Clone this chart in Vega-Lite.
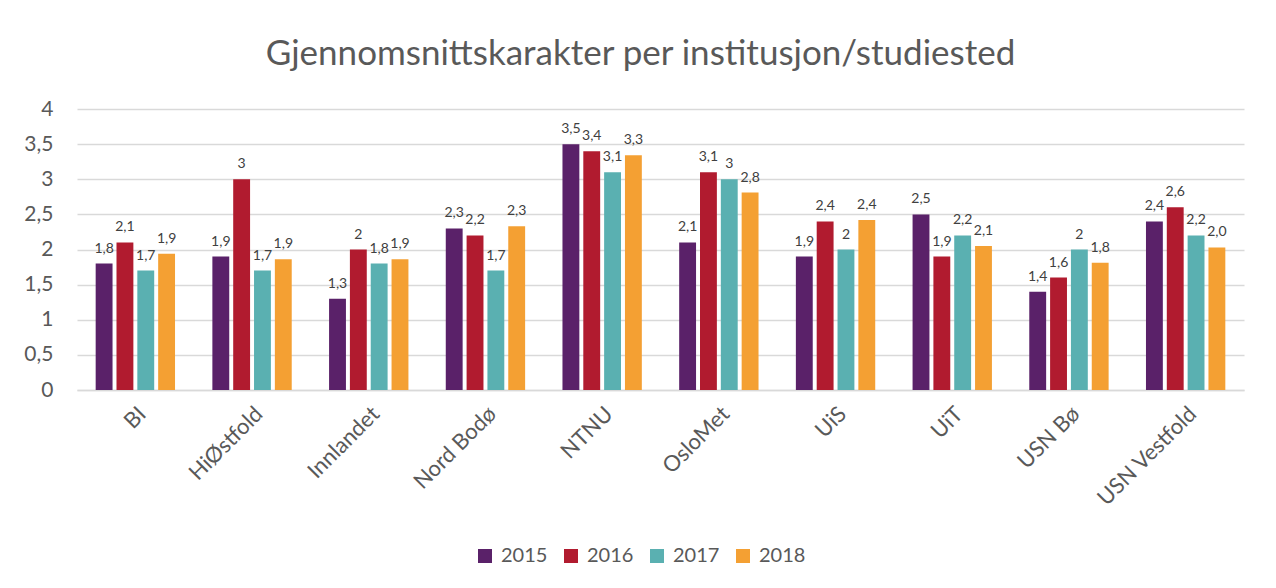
{
  "$schema": "https://vega.github.io/schema/vega-lite/v6.json",
  "autosize": "none",
  "width": 1167,
  "height": 281,
  "padding": {"left": 77, "top": 109, "right": 32, "bottom": 198},
  "background": "#ffffff",
  "title": {
    "text": "Gjennomsnittskarakter per institusjon/studiested",
    "font": "Lato",
    "fontSize": 35,
    "fontWeight": "normal",
    "color": "#595959",
    "anchor": "middle",
    "frame": "group",
    "baseline": "alphabetic",
    "offset": -2,
    "dx": -20
  },
  "data": {
    "values": [
      {"inst": "BI", "year": "2015", "value": 1.8, "label": "1,8"},
      {"inst": "BI", "year": "2016", "value": 2.1, "label": "2,1"},
      {"inst": "BI", "year": "2017", "value": 1.7, "label": "1,7"},
      {"inst": "BI", "year": "2018", "value": 1.94, "label": "1,9"},
      {"inst": "HiØstfold", "year": "2015", "value": 1.9, "label": "1,9"},
      {"inst": "HiØstfold", "year": "2016", "value": 3.0, "label": "3"},
      {"inst": "HiØstfold", "year": "2017", "value": 1.7, "label": "1,7"},
      {"inst": "HiØstfold", "year": "2018", "value": 1.86, "label": "1,9"},
      {"inst": "Innlandet", "year": "2015", "value": 1.3, "label": "1,3"},
      {"inst": "Innlandet", "year": "2016", "value": 2.0, "label": "2"},
      {"inst": "Innlandet", "year": "2017", "value": 1.8, "label": "1,8"},
      {"inst": "Innlandet", "year": "2018", "value": 1.86, "label": "1,9"},
      {"inst": "Nord Bodø", "year": "2015", "value": 2.3, "label": "2,3"},
      {"inst": "Nord Bodø", "year": "2016", "value": 2.2, "label": "2,2"},
      {"inst": "Nord Bodø", "year": "2017", "value": 1.7, "label": "1,7"},
      {"inst": "Nord Bodø", "year": "2018", "value": 2.33, "label": "2,3"},
      {"inst": "NTNU", "year": "2015", "value": 3.5, "label": "3,5"},
      {"inst": "NTNU", "year": "2016", "value": 3.4, "label": "3,4"},
      {"inst": "NTNU", "year": "2017", "value": 3.1, "label": "3,1"},
      {"inst": "NTNU", "year": "2018", "value": 3.34, "label": "3,3"},
      {"inst": "OsloMet", "year": "2015", "value": 2.1, "label": "2,1"},
      {"inst": "OsloMet", "year": "2016", "value": 3.1, "label": "3,1"},
      {"inst": "OsloMet", "year": "2017", "value": 3.0, "label": "3"},
      {"inst": "OsloMet", "year": "2018", "value": 2.81, "label": "2,8"},
      {"inst": "UiS", "year": "2015", "value": 1.9, "label": "1,9"},
      {"inst": "UiS", "year": "2016", "value": 2.4, "label": "2,4"},
      {"inst": "UiS", "year": "2017", "value": 2.0, "label": "2"},
      {"inst": "UiS", "year": "2018", "value": 2.42, "label": "2,4"},
      {"inst": "UiT", "year": "2015", "value": 2.5, "label": "2,5"},
      {"inst": "UiT", "year": "2016", "value": 1.9, "label": "1,9"},
      {"inst": "UiT", "year": "2017", "value": 2.2, "label": "2,2"},
      {"inst": "UiT", "year": "2018", "value": 2.05, "label": "2,1"},
      {"inst": "USN Bø", "year": "2015", "value": 1.4, "label": "1,4"},
      {"inst": "USN Bø", "year": "2016", "value": 1.6, "label": "1,6"},
      {"inst": "USN Bø", "year": "2017", "value": 2.0, "label": "2"},
      {"inst": "USN Bø", "year": "2018", "value": 1.81, "label": "1,8"},
      {"inst": "USN Vestfold", "year": "2015", "value": 2.4, "label": "2,4"},
      {"inst": "USN Vestfold", "year": "2016", "value": 2.6, "label": "2,6"},
      {"inst": "USN Vestfold", "year": "2017", "value": 2.2, "label": "2,2"},
      {"inst": "USN Vestfold", "year": "2018", "value": 2.03, "label": "2,0"}
    ]
  },
  "encoding": {
    "x": {
      "field": "inst",
      "type": "nominal",
      "sort": null,
      "scale": {"paddingInner": 0.32, "paddingOuter": 0.16},
      "axis": {
        "title": null,
        "labelAngle": -45,
        "labelFont": "Lato",
        "labelFontSize": 22,
        "labelColor": "#595959",
        "labelPadding": 13,
        "ticks": false,
        "domainColor": "#D9D9D9",
        "domainWidth": 1.5,
        "grid": false
      }
    },
    "xOffset": {
      "field": "year",
      "type": "nominal",
      "scale": {"paddingInner": 0.19, "paddingOuter": 0}
    },
    "y": {
      "field": "value",
      "type": "quantitative",
      "scale": {"domain": [0, 4]},
      "axis": {
        "title": null,
        "values": [0, 0.5, 1, 1.5, 2, 2.5, 3, 3.5, 4],
        "format": ".1~f",
        "labelExpr": "replace(datum.label, '.', ',')",
        "labelFont": "Lato",
        "labelFontSize": 21,
        "labelColor": "#595959",
        "labelPadding": 24,
        "ticks": false,
        "domain": false,
        "gridColor": "#D9D9D9",
        "gridWidth": 1.5
      }
    }
  },
  "layer": [
    {
      "mark": {"type": "bar"},
      "encoding": {
        "color": {
          "field": "year",
          "type": "nominal",
          "scale": {
            "domain": ["2015", "2016", "2017", "2018"],
            "range": ["#5A2169", "#B11B2F", "#5AB0B1", "#F4A033"]
          },
          "legend": {
            "title": null,
            "orient": "none",
            "direction": "horizontal",
            "legendX": 398,
            "legendY": 437,
            "symbolType": "square",
            "symbolSize": 196,
            "symbolStrokeWidth": 0,
            "labelFont": "Lato",
            "labelFontSize": 20,
            "labelColor": "#595959",
            "labelOffset": 6,
            "columnPadding": 13,
            "padding": 0
          }
        }
      }
    },
    {
      "mark": {
        "type": "text",
        "baseline": "alphabetic",
        "dy": -11,
        "font": "Lato",
        "fontSize": 14,
        "color": "#404040"
      },
      "encoding": {
        "text": {"field": "label", "type": "nominal"}
      }
    }
  ],
  "config": {
    "view": {"stroke": null}
  }
}
